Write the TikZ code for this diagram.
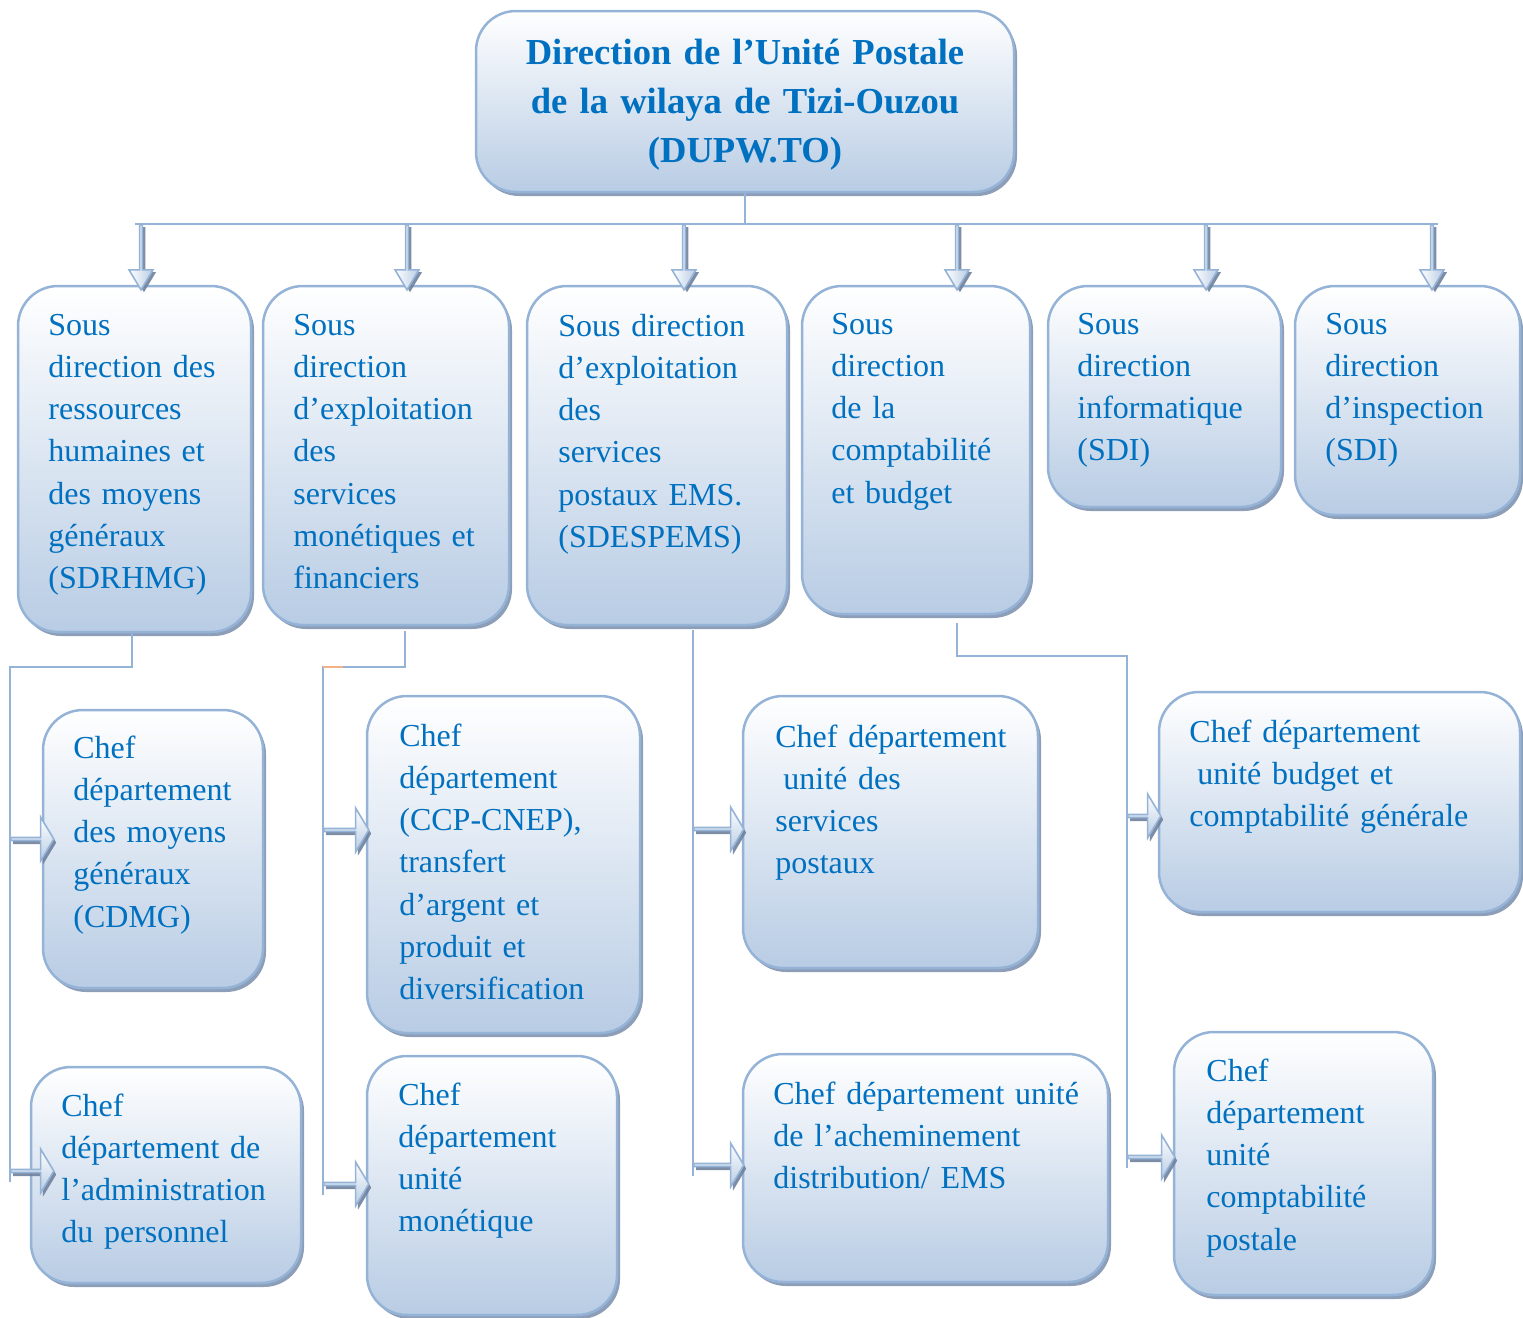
\documentclass[tikz,border=0pt]{standalone}
\usepackage{fontspec}
\setmainfont[WordSpace=0.8]{Liberation Serif}
\usetikzlibrary{shapes.arrows,shadows,fit}
\definecolor{bord}{HTML}{95B3D7}
\definecolor{fillb}{HTML}{B8CCE4}
\definecolor{ink}{HTML}{0070C0}
\definecolor{shad}{HTML}{8093B0}
\definecolor{ashad}{HTML}{6F819C}
\definecolor{peach}{HTML}{F4B183}
\tikzset{
  orgbox/.style={draw=bord, line width=1.25pt, rounded corners=20pt,
    top color=white, bottom color=fillb, inner sep=0pt,
    drop shadow={shadow xshift=1.5pt, shadow yshift=-2pt, fill=shad, opacity=0.9}},
  lbl/.style={text=ink, align=left, inner sep=0pt, anchor=base west,
    font=\fontsize{16}{21.15}\selectfont},
  conn/.style={draw=bord, line width=1pt},
  downarrow/.style={single arrow, shape border rotate=270, draw=bord, line width=0.8pt,
    left color=white, right color=fillb, minimum width=12pt,
    single arrow head extend=3pt, single arrow tip angle=62,
    minimum height=32.5pt, inner sep=0pt, anchor=tail,
    drop shadow={shadow xshift=1.5pt, shadow yshift=-1.2pt, fill=ashad, opacity=0.9}},
  rightarrow/.style={single arrow, draw=bord, line width=0.8pt,
    top color=white, bottom color=fillb, minimum width=22pt,
    single arrow head extend=5.5pt, single arrow tip angle=118,
    inner sep=0pt, anchor=tail,
    drop shadow={shadow xshift=1.2pt, shadow yshift=-1.8pt, fill=ashad, opacity=0.9}}
}
\begin{document}
\begin{tikzpicture}[x=0.5pt,y=-0.5pt]
\useasboundingbox (0,0) rectangle (1523,1318);

% head of the organisation
\node[orgbox, fit={(476,11) (1014,192)}] (top) {};
\node[text=ink, align=center, inner sep=0pt, anchor=base, text width=250pt,
  font=\bfseries\fontsize{18.3}{24.5}\selectfont] (toptxt) at (745,64)
  {Direction de l’Unité Postale\\de la wilaya de Tizi-Ouzou\\(DUPW.TO)};

% distribution bus
\coordinate (busL) at (135,224);
\coordinate (busR) at (1438,224);
\draw[conn] (top.south) -- (top.south |- busL);
\draw[conn] (busL) -- (busR);
\coordinate (t1) at (141,224);
\coordinate (t2) at (407,224);
\coordinate (t3) at (684,224);
\coordinate (t4) at (957,224);
\coordinate (t5) at (1206,224);
\coordinate (t6) at (1432,224);

% sub-directions
\node[orgbox, fit={(18,286) (251,632)}] (s1) {};
\node[orgbox, fit={(263,286) (509,625)}] (s2) {};
\node[orgbox, fit={(527,286) (787,625)}] (s3) {};
\node[orgbox, fit={(802,286) (1030,614)}] (s4) {};
\node[orgbox, fit={(1048,286) (1281,507)}] (s5) {};
\node[orgbox, fit={(1295,286) (1520,515)}] (s6) {};

\node[lbl, text width=97pt] (s1t) at (48,335)
  {Sous\\direction des\\ressources\\humaines et\\des moyens\\généraux\\(SDRHMG)};
\node[lbl, text width=104pt] (s2t) at (293,335)
  {Sous\\direction\\d’exploitation\\des\\services\\monétiques et\\financiers};
\node[lbl, text width=110pt] (s3t) at (558,336)
  {Sous direction\\d’exploitation\\des\\services\\postaux EMS.\\(SDESPEMS)};
\node[lbl, text width=95pt] (s4t) at (831,334)
  {Sous\\direction\\de la\\comptabilité\\et budget};
\node[lbl, text width=98pt] (s5t) at (1077,334)
  {Sous\\direction\\informatique\\(SDI)};
\node[lbl, text width=93pt] (s6t) at (1325,334)
  {Sous\\direction\\d’inspection\\(SDI)};

% links from the sub-directions to their departments
\coordinate (c1a) at (10,667);
\coordinate (c1b) at (10,1182);
\coordinate (c2a) at (323,667);
\coordinate (c2b) at (323,1195);
\coordinate (c3b) at (693,1176);
\coordinate (c4a) at (1127,656);
\coordinate (c4b) at (1127,1168);
\draw[conn] ([xshift=-1.5pt]s1.south) |- (c1a) -- (c1b);
\draw[conn] ([xshift=9.5pt,yshift=-2.5pt]s2.south) |- (c2a) -- (c2b);
\draw[peach, line width=1pt] (c2a) -- ++(20,0);
\draw[conn] ([xshift=18pt,yshift=-2pt]s3.south) -- (c3b);
\draw[conn] ([xshift=20.5pt,yshift=-4pt]s4.south) |- (c4a) -- (c4b);

% departments
\node[orgbox, fit={(43,710) (263,988)}] (d1) {};
\node[orgbox, fit={(31,1067) (301,1283)}] (d2) {};
\node[orgbox, fit={(367,696) (640,1033)}] (d3) {};
\node[orgbox, fit={(367,1056) (617,1315)}] (d4) {};
\node[orgbox, fit={(743,696) (1038,968)}] (d5) {};
\node[orgbox, fit={(743,1054) (1108,1282)}] (d6) {};
\node[orgbox, fit={(1159,692) (1520,912)}] (d7) {};
\node[orgbox, fit={(1174,1032) (1433,1295)}] (d8) {};

\node[lbl, text width=91pt] (d1t) at (73,758)
  {Chef\\département\\des moyens\\généraux\\(CDMG)};
\node[lbl, text width=116pt] (d2t) at (61,1116)
  {Chef\\département de\\l’administration\\du personnel};
\node[lbl, text width=116pt] (d3t) at (399,746)
  {Chef\\département\\(CCP-CNEP),\\transfert\\d’argent et\\produit et\\diversification};
\node[lbl, text width=105pt] (d4t) at (398,1105)
  {Chef\\département\\unité\\monétique};
\node[lbl, text width=127pt] (d5t) at (775,747)
  {Chef département\\\hspace{0.25em}unité des\\services\\postaux};
\node[lbl, text width=163pt] (d6t) at (773,1104)
  {Chef département unité\\de l’acheminement\\distribution/ EMS};
\node[lbl, text width=160pt] (d7t) at (1189,742)
  {Chef département\\\hspace{0.25em}unité budget et\\comptabilité générale};
\node[lbl, text width=109pt] (d8t) at (1206,1081)
  {Chef\\département\\unité\\comptabilité\\postale};

% block arrows into the sub-directions
\node[downarrow] (a1) at (t1) {};
\node[downarrow] (a2) at (t2) {};
\node[downarrow] (a3) at (t3) {};
\node[downarrow] (a4) at (t4) {};
\node[downarrow] (a5) at (t5) {};
\node[downarrow] (a6) at (t6) {};

% block arrows into the departments
\node[rightarrow, minimum height=21.5pt] (r1) at (10,839) {};
\node[rightarrow, minimum height=21.5pt] (r2) at (10,1171) {};
\node[rightarrow, minimum height=22.5pt] (r3) at (323,830) {};
\node[rightarrow, minimum height=22.5pt] (r4) at (323,1184) {};
\node[rightarrow, minimum height=25pt] (r5) at (693,829) {};
\node[rightarrow, minimum height=25pt] (r6) at (693,1165) {};
\node[rightarrow, minimum height=16.5pt] (r7) at (1127,816) {};
\node[rightarrow, minimum height=23.5pt] (r8) at (1127,1157) {};
\end{tikzpicture}
\end{document}
